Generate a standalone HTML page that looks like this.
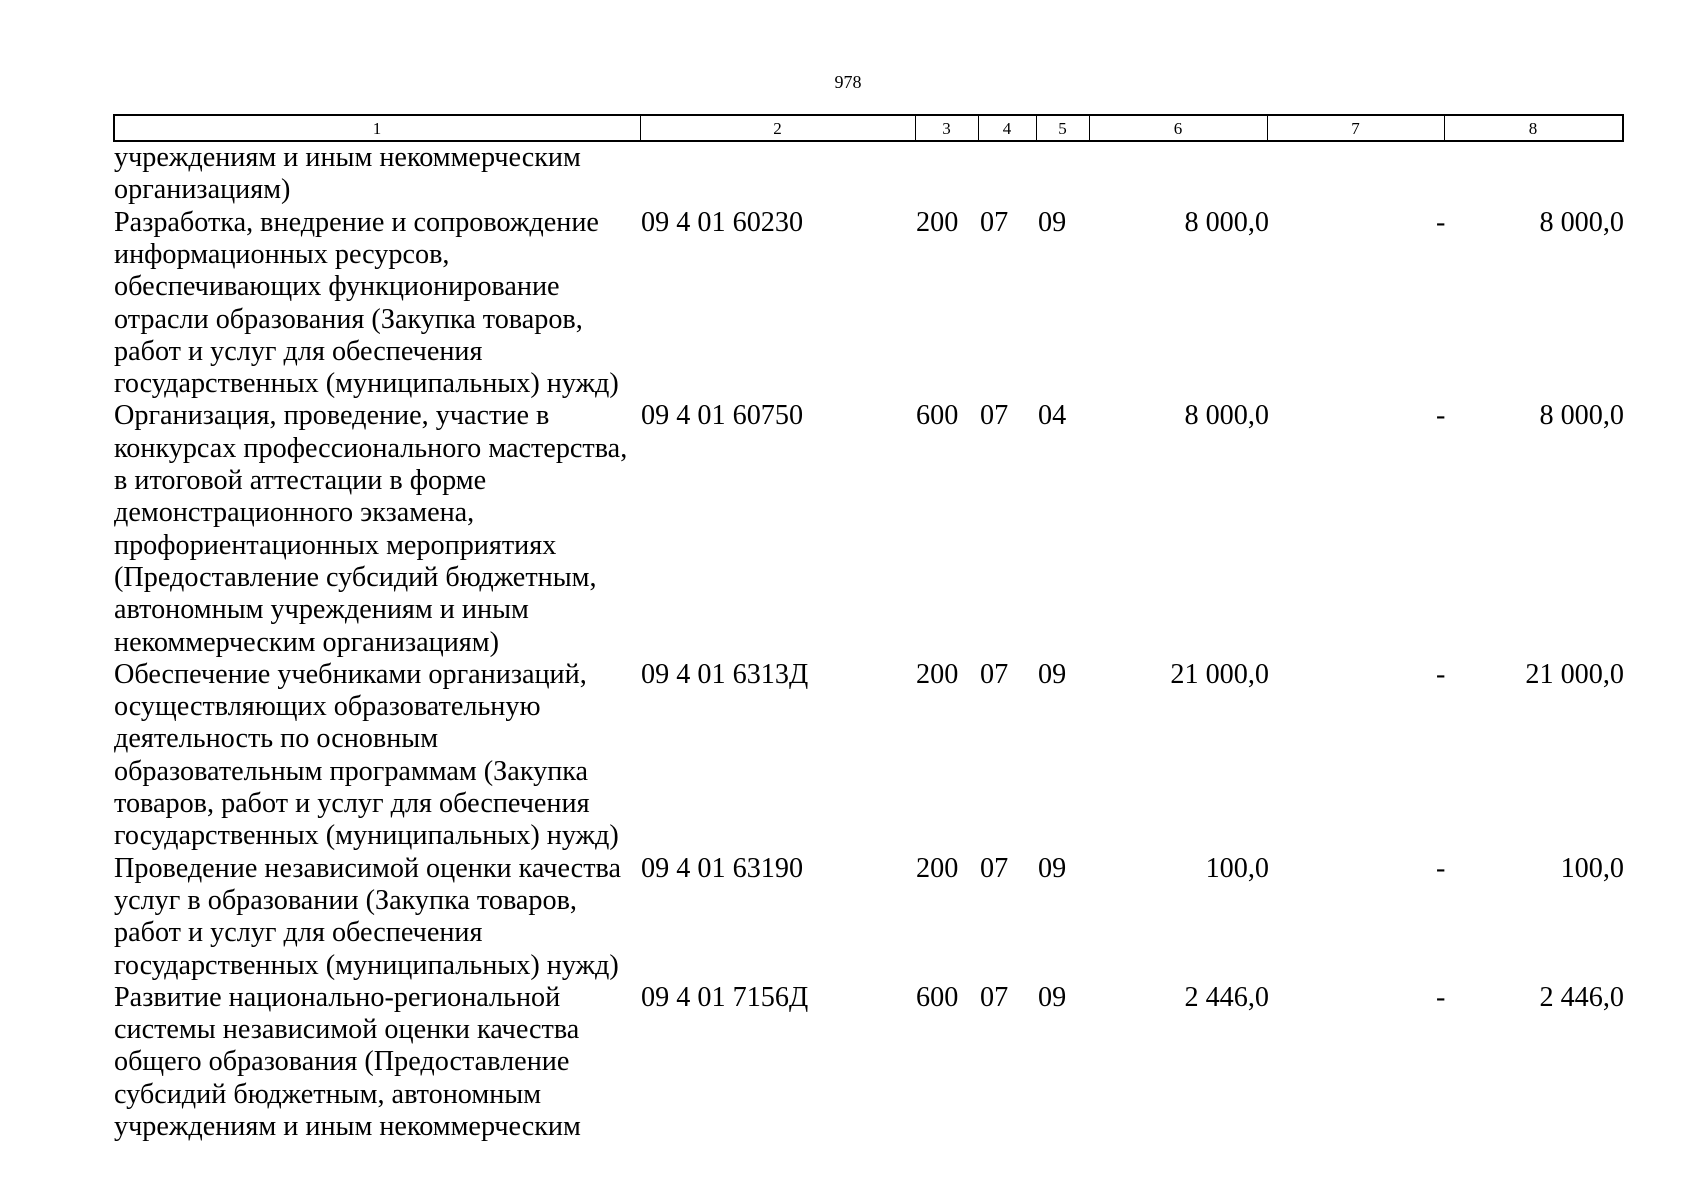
<!DOCTYPE html>
<html><head><meta charset="utf-8"><style>
body{margin:0;width:1698px;height:1200px;background:#fff;position:relative;overflow:hidden;font-family:"Liberation Serif","DejaVu Serif",serif;color:#000}
.l{position:absolute;font-size:28.2px;line-height:32px;white-space:nowrap}
.r{text-align:right}
.h{position:absolute;top:114px;height:24px;border:2px solid #000;}
.v{position:absolute;top:114px;height:28px;width:1px;background:#000}
.n{position:absolute;top:116px;font-size:17px;line-height:25px;text-align:center}
</style></head><body>
<div style="position:absolute;left:818px;top:72px;width:60px;text-align:center;font-size:18px">978</div>
<div class="h" style="left:113px;width:1507px"></div>
<div class="v" style="left:640px"></div><div class="v" style="left:915px"></div><div class="v" style="left:978px"></div><div class="v" style="left:1036px"></div><div class="v" style="left:1089px"></div><div class="v" style="left:1267px"></div><div class="v" style="left:1444px"></div>
<div class="n" style="left:114px;width:526px">1</div>
<div class="n" style="left:640px;width:275px">2</div>
<div class="n" style="left:915px;width:63px">3</div>
<div class="n" style="left:978px;width:58px">4</div>
<div class="n" style="left:1036px;width:53px">5</div>
<div class="n" style="left:1089px;width:178px">6</div>
<div class="n" style="left:1267px;width:177px">7</div>
<div class="n" style="left:1444px;width:178px">8</div>
<div id="c"></div>
<script>
const L=["учреждениям и иным некоммерческим","организациям)","Разработка, внедрение и сопровождение","информационных ресурсов,","обеспечивающих функционирование","отрасли образования (Закупка товаров,","работ и услуг для обеспечения","государственных (муниципальных) нужд)","Организация, проведение, участие в","конкурсах профессионального мастерства,","в итоговой аттестации в форме","демонстрационного экзамена,","профориентационных мероприятиях","(Предоставление субсидий бюджетным,","автономным учреждениям и иным","некоммерческим организациям)","Обеспечение учебниками организаций,","осуществляющих образовательную","деятельность по основным","образовательным программам (Закупка","товаров, работ и услуг для обеспечения","государственных (муниципальных) нужд)","Проведение независимой оценки качества","услуг в образовании (Закупка товаров,","работ и услуг для обеспечения","государственных (муниципальных) нужд)","Развитие национально-региональной","системы независимой оценки качества","общего образования (Предоставление","субсидий бюджетным, автономным","учреждениям и иным некоммерческим"];
const R={2:["09 4 01 60230","200","07","09","8 000,0","8 000,0"],8:["09 4 01 60750","600","07","04","8 000,0","8 000,0"],16:["09 4 01 6313Д","200","07","09","21 000,0","21 000,0"],22:["09 4 01 63190","200","07","09","100,0","100,0"],26:["09 4 01 7156Д","600","07","09","2 446,0","2 446,0"]};
let h="";
const t=i=>158+i*32.3-16;
L.forEach((s,i)=>{h+=`<div class="l" style="left:114px;top:${t(i)}px">${s}</div>`;});
for(const k in R){const r=R[k],y=t(+k);
h+=`<div class="l" style="left:641px;top:${y}px">${r[0]}</div><div class="l" style="left:916px;top:${y}px">${r[1]}</div><div class="l" style="left:980px;top:${y}px">${r[2]}</div><div class="l" style="left:1038px;top:${y}px">${r[3]}</div><div class="l r" style="left:1069px;width:200px;top:${y}px">${r[4]}</div><div class="l" style="left:1436px;top:${y}px">-</div><div class="l r" style="left:1424px;width:200px;top:${y}px">${r[5]}</div>`;}
document.getElementById("c").innerHTML=h;
</script>
</body></html>
